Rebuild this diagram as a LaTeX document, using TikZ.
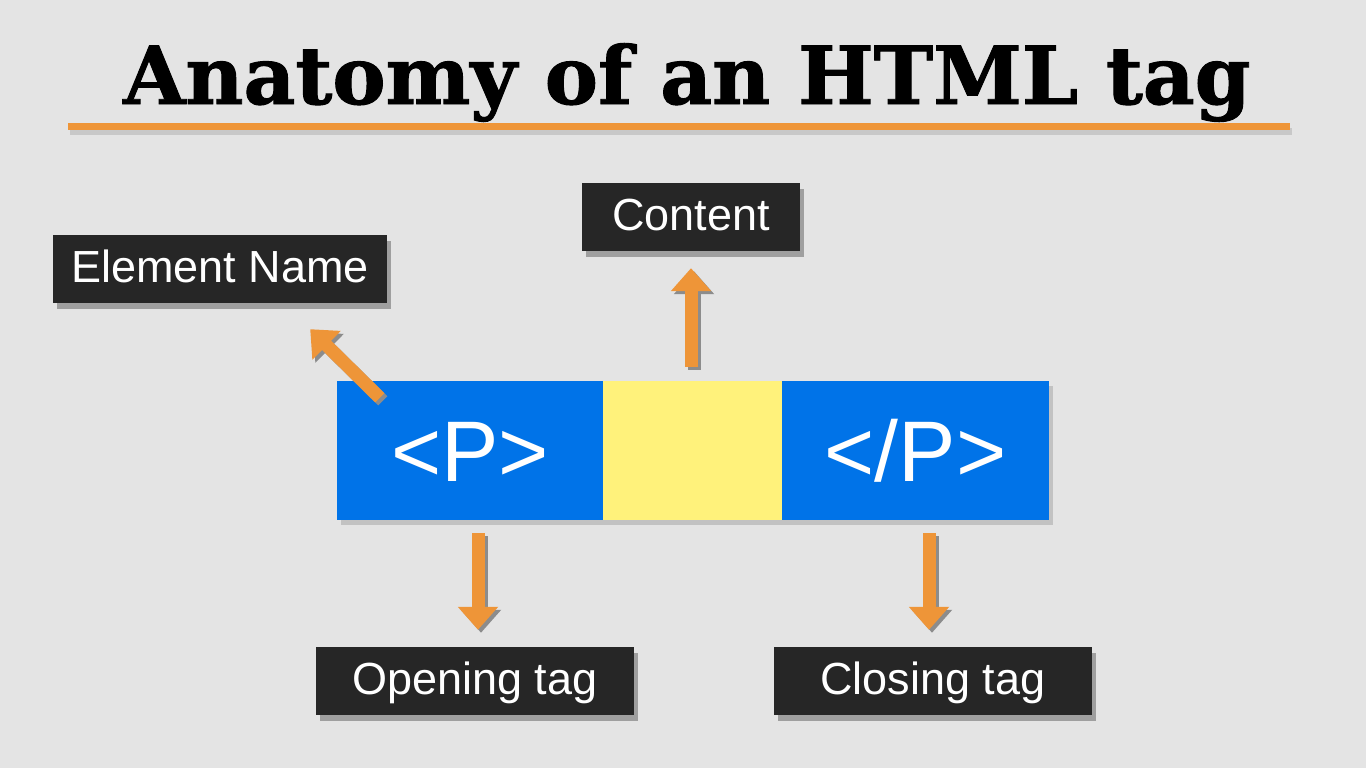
\documentclass[tikz,border=0pt]{standalone}
\usepackage{fontspec}
\setmainfont{Liberation Sans}
\newfontfamily\titlefont[FakeBold=1.2]{DejaVu Serif Bold}
\usetikzlibrary{arrows.meta,shadows}
\definecolor{bg}{HTML}{E4E4E4}
\definecolor{orng}{HTML}{EE9538}
\definecolor{lbl}{HTML}{262626}
\definecolor{tagblue}{HTML}{0073E8}
\definecolor{tagyellow}{HTML}{FFF27B}
\definecolor{arrshadow}{HTML}{8C8C8C}
\tikzset{
  lblbox/.style={fill=lbl, text=white, font=\fontsize{45}{45}\selectfont,
    text height=32pt, text depth=5pt, minimum height=68pt, inner sep=0pt,
    drop shadow={shadow xshift=4pt, shadow yshift=-6pt, opacity=0.3, fill=black}},
  tagbox/.style={fill=tagblue, text=white, font=\fontsize{86}{86}\selectfont,
    text height=62pt, text depth=0pt, minimum height=139pt, inner sep=0pt},
  arr/.style={draw=orng, line width=13pt, -{Triangle[length=23pt,width=39pt]}},
  arrsh/.style={draw=arrshadow, line width=13pt, -{Triangle[length=23pt,width=39pt]},
    transform canvas={shift={(3pt,-3pt)}}},
  titletext/.style={font=\titlefont\fontsize{80}{80}\selectfont, inner sep=0pt, anchor=base}
}
\begin{document}
\begin{tikzpicture}[x=1pt,y=-1pt]
\fill[bg] (0,0) rectangle (1366,768);
\useasboundingbox (0,0) rectangle (1366,768);
% title
\node[titletext, text=black] (title) at (687,104) {Anatomy of an HTML tag};
\draw[black, opacity=0.12, line width=7pt] (70,131) -- (1292,131);
\draw[orng, line width=7pt] (68,126) -- (1290,126);
% tag strip
\fill[black, opacity=0.15] (341,386) rectangle (1053,525);
\node[tagbox, minimum width=266pt] (openbox) at (470,450.5) {<P>};
\node[fill=tagyellow, minimum width=179pt, minimum height=139pt, inner sep=0pt] (ybox) at (692.5,450.5) {};
\node[tagbox, minimum width=267pt] (closebox) at (915.5,450.5) {</P>};
% labels
\node[lblbox, minimum width=334pt] (ename) at (220,269) {Element Name};
\node[lblbox, minimum width=218pt] (content) at (691,217) {Content};
\node[lblbox, minimum width=318pt] (otag) at (475,681) {Opening tag};
\node[lblbox, minimum width=318pt] (ctag) at (933,681) {Closing tag};
% arrows
\draw[arrsh] ([xshift=43pt,yshift=-17pt]openbox.north west) -- ([xshift=-77pt,yshift=-26pt]ename.south east);
\draw[arr] ([xshift=43pt,yshift=-17pt]openbox.north west) -- ([xshift=-77pt,yshift=-26pt]ename.south east);
\draw[arrsh] ([xshift=-1.5pt,yshift=14pt]ybox.north) -- ([yshift=-17pt]content.south);
\draw[arr] ([xshift=-1.5pt,yshift=14pt]ybox.north) -- ([yshift=-17pt]content.south);
\draw[arrsh] ([xshift=8pt,yshift=-13pt]openbox.south) -- ([xshift=3pt,yshift=17pt]otag.north);
\draw[arr] ([xshift=8pt,yshift=-13pt]openbox.south) -- ([xshift=3pt,yshift=17pt]otag.north);
\draw[arrsh] ([xshift=13.5pt,yshift=-13pt]closebox.south) -- ([xshift=-4pt,yshift=17pt]ctag.north);
\draw[arr] ([xshift=13.5pt,yshift=-13pt]closebox.south) -- ([xshift=-4pt,yshift=17pt]ctag.north);
\end{tikzpicture}
\end{document}
